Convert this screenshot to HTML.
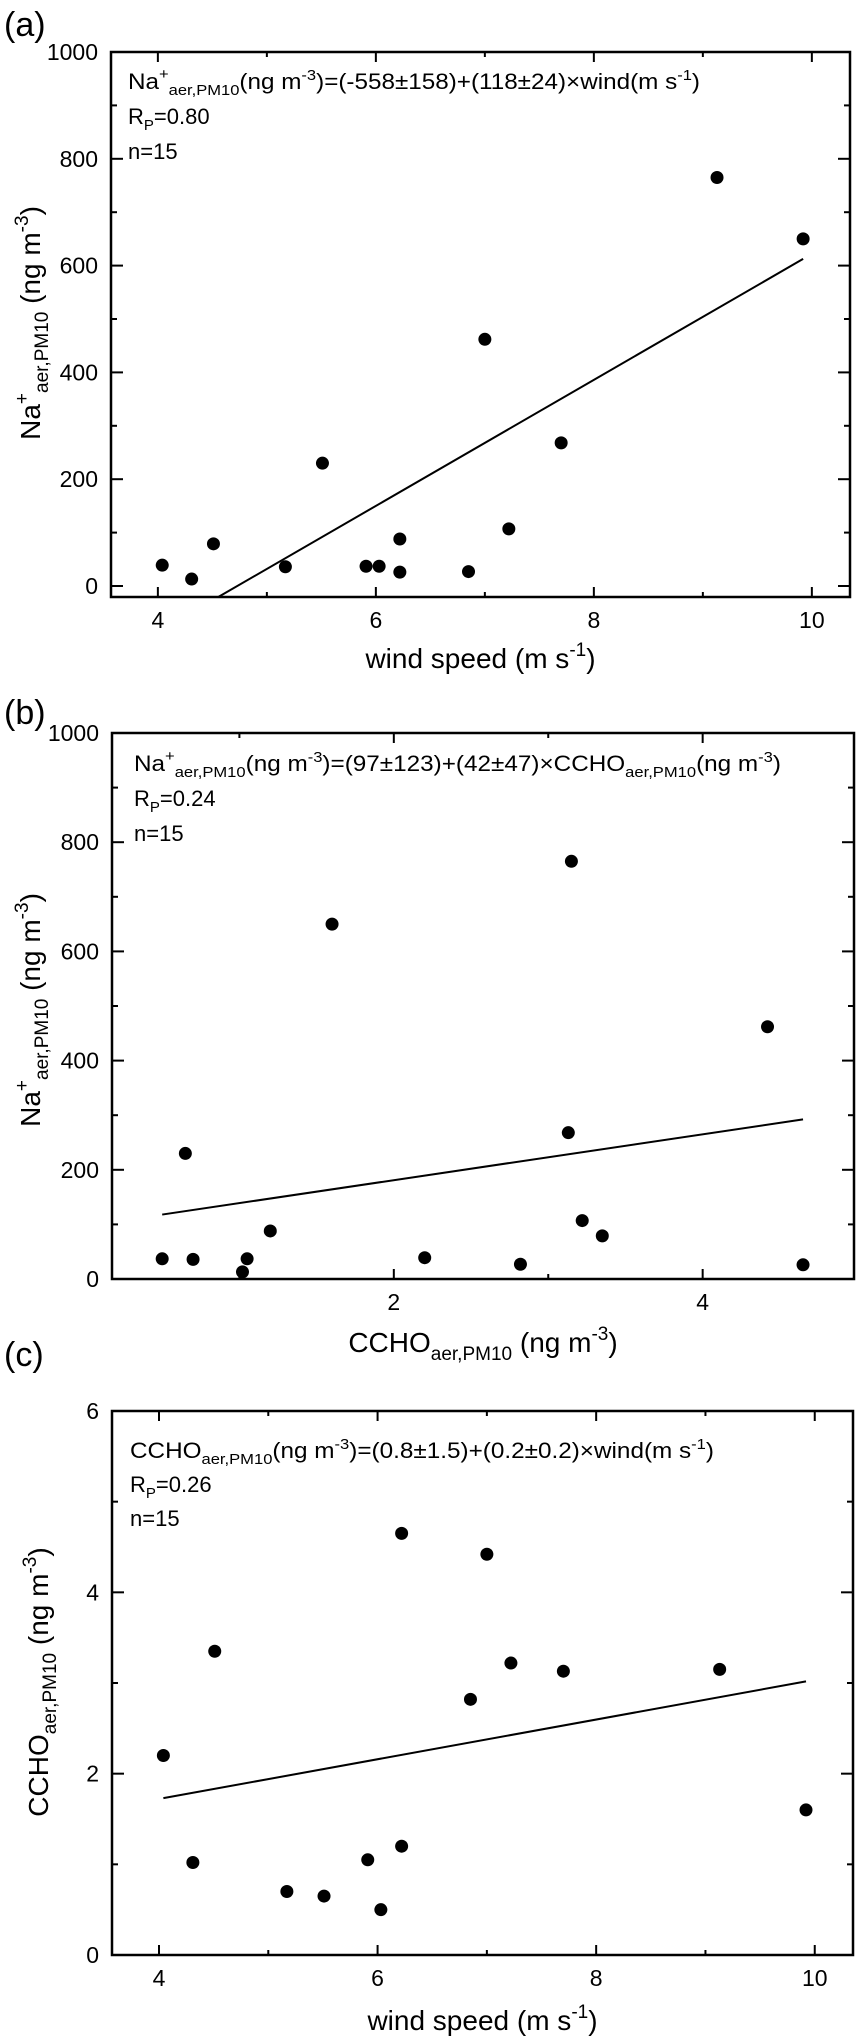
<!DOCTYPE html>
<html><head><meta charset="utf-8"><style>
html,body{margin:0;padding:0;background:#fff}
svg{display:block;font-family:"Liberation Sans",Arial,sans-serif}
</style></head><body>
<svg id="fig" width="856" height="2040" viewBox="0 0 856 2040" xmlns="http://www.w3.org/2000/svg"></svg>
<script>
const windSpeed=[4.04,4.31,4.51,5.17,5.51,5.91,6.03,6.22,6.22,6.85,7.0,7.22,7.7,9.13,9.92];
const naValues=[39,13,79,36,230,37,37,88,26,27,462,107,268,765,650];
const cchoValues=[2.2,1.02,3.35,0.7,0.65,1.05,0.5,1.2,4.65,2.82,4.42,3.22,3.13,3.15,1.6];
const fitA=[-558,118], fitB=[97,42], fitC=[0.845,0.219];
const ticksA_x=[4,6,8,10], ticksA_y=[0,200,400,600,800,1000];
const ticksB_x=[2,4], ticksC_y=[0,2,4,6];
const NS="http://www.w3.org/2000/svg";
const svg=document.getElementById('fig');
function mk(tag,attrs,parent){const e=document.createElementNS(NS,tag);for(const k in attrs)e.setAttribute(k,attrs[k]);(parent||svg).appendChild(e);return e;}

function panel(o){
  const g=mk('g',{});
  
  
  const X=v=>o.L+(v-o.xmin)/(o.xmax-o.xmin)*(o.R-o.L);
  const Y=v=>o.B-(v-o.ymin)/(o.ymax-o.ymin)*(o.B-o.T);
  const fr=mk('rect',{x:o.L,y:o.T,width:o.R-o.L,height:o.B-o.T,fill:'none',stroke:'#000','stroke-width':2.5},g);
  
  
  // x ticks
  for(let v=Math.ceil(o.xmin/o.xminor)*o.xminor;v<=o.xmax+1e-9;v+=o.xminor){
    const major=o.xt.some(t=>Math.abs(t-v)<1e-6); const len=major?10:5; const x=X(v);
    mk('line',{x1:x,y1:o.B,x2:x,y2:o.B-len,stroke:'#000','stroke-width':2},g);
    mk('line',{x1:x,y1:o.T,x2:x,y2:o.T+len,stroke:'#000','stroke-width':2},g);
  }
  o.xt.forEach(v=>{const t=mk('text',{x:X(v),y:o.B+31,'font-size':23,'text-anchor':'middle'},g);t.textContent=v;
    
    });
  for(let v=Math.ceil(o.ymin/o.yminor)*o.yminor;v<=o.ymax+1e-9;v+=o.yminor){
    const major=o.yt.some(t=>Math.abs(t-v)<1e-6); const len=major?12:6; const y=Y(v);
    mk('line',{x1:o.L,y1:y,x2:o.L+len,y2:y,stroke:'#000','stroke-width':2},g);
    mk('line',{x1:o.R,y1:y,x2:o.R-len,y2:y,stroke:'#000','stroke-width':2},g);
  }
  o.yt.forEach(v=>{const t=mk('text',{x:o.L-13,y:Y(v)+8,'font-size':23,'text-anchor':'end'},g);t.textContent=v;
    
    });
  // fit line
  const ln=mk('line',{x1:X(o.fx0),y1:Y(o.fit[0]+o.fit[1]*o.fx0),x2:X(o.fx1),y2:Y(o.fit[0]+o.fit[1]*o.fx1),stroke:'#000','stroke-width':2},g);
  
  
  o.xs.forEach((xv,i)=>{const c=mk('circle',{cx:X(xv),cy:Y(o.ys[i]),r:6.5,fill:'#000'},g);
    
    });
  // text
  const eq=mk('text',{x:o.tx,y:o.ty,'font-size':22,textLength:o.tw,lengthAdjust:'spacingAndGlyphs'},g);
  eq.innerHTML=o.eq;
  
  
  const r=mk('text',{x:o.tx,y:o.ty+o.ls,'font-size':22},g);
  r.innerHTML='R<tspan font-size="15" dy="6">P</tspan><tspan dy="-6">='+o.rp+'</tspan>';
  
  
  const n=mk('text',{x:o.tx,y:o.ty+2*o.ls,'font-size':22},g);n.textContent='n=15';
  
  
  const xt=mk('text',{x:(o.L+o.R)/2,y:o.xty,'font-size':28,'text-anchor':'middle'},g);xt.innerHTML=o.xlab;
  
  
  const yt=mk('text',{x:0,y:0,'font-size':28,'text-anchor':'middle',transform:'translate('+o.ytx+','+o.ytc+') rotate(-90)'},g);yt.innerHTML=o.ylab;
  
  
  const pl=mk('text',{x:4,y:o.ply,'font-size':34},g);pl.textContent=o.pl;
  
  
}
const naLab='Na<tspan font-size="19" dy="-12">+</tspan><tspan font-size="19" dy="20">aer,PM10</tspan><tspan dy="-8"> (ng m</tspan><tspan font-size="19" dy="-12">-3</tspan><tspan dy="12">)</tspan>';
const windLab='wind speed (m s<tspan font-size="19" dy="-12">-1</tspan><tspan dy="12">)</tspan>';
panel({name:'panel-a',pl:'(a)',ply:36,L:111,R:850,T:52,B:597,xmin:3.57,xmax:10.35,ymin:-20.6,ymax:1000,xminor:1,yminor:100,xt:ticksA_x,yt:ticksA_y,
 xs:windSpeed,ys:naValues,fit:fitA,fx0:4.556,fx1:9.92,tx:128,ty:89,tw:572,ls:35,rp:'0.80',
 eq:'Na<tspan font-size="15" dy="-10">+</tspan><tspan font-size="15" dy="16">aer,PM10</tspan><tspan dy="-6">(ng m</tspan><tspan font-size="15" dy="-9">-3</tspan><tspan dy="9">)=(-558±158)+(118±24)×wind(m s</tspan><tspan font-size="15" dy="-9">-1</tspan><tspan dy="9">)</tspan>',
 xlab:windLab,xty:668,ylab:naLab,ytx:40,ytc:323});
panel({name:'panel-b',pl:'(b)',ply:724,L:112,R:854,T:733,B:1279,xmin:0.175,xmax:4.98,ymin:0,ymax:1000,xminor:1,yminor:100,xt:ticksB_x,yt:ticksA_y,
 xs:cchoValues,ys:naValues,fit:fitB,fx0:0.5,fx1:4.65,tx:134,ty:771,tw:647,ls:35,rp:'0.24',
 eq:'Na<tspan font-size="15" dy="-10">+</tspan><tspan font-size="15" dy="16">aer,PM10</tspan><tspan dy="-6">(ng m</tspan><tspan font-size="15" dy="-9">-3</tspan><tspan dy="9">)=(97±123)+(42±47)×CCHO</tspan><tspan font-size="15" dy="6">aer,PM10</tspan><tspan dy="-6">(ng m</tspan><tspan font-size="15" dy="-9">-3</tspan><tspan dy="9">)</tspan>',
 xlab:'CCHO<tspan font-size="19" dy="8">aer,PM10</tspan><tspan dy="-8"> (ng m</tspan><tspan font-size="19" dy="-12">-3</tspan><tspan dy="12">)</tspan>',xty:1352,ylab:naLab,ytx:40,ytc:1010});
panel({name:'panel-c',pl:'(c)',ply:1366,L:112,R:853,T:1411,B:1955,xmin:3.57,xmax:10.35,ymin:0,ymax:6,xminor:1,yminor:1,xt:ticksA_x,yt:ticksC_y,
 xs:windSpeed,ys:cchoValues,fit:fitC,fx0:4.04,fx1:9.92,tx:130,ty:1458,tw:584,ls:34,rp:'0.26',
 eq:'CCHO<tspan font-size="15" dy="6">aer,PM10</tspan><tspan dy="-6">(ng m</tspan><tspan font-size="15" dy="-9">-3</tspan><tspan dy="9">)=(0.8±1.5)+(0.2±0.2)×wind(m s</tspan><tspan font-size="15" dy="-9">-1</tspan><tspan dy="9">)</tspan>',
 xlab:windLab,xty:2030,ylab:'CCHO<tspan font-size="19" dy="8">aer,PM10</tspan><tspan dy="-8"> (ng m</tspan><tspan font-size="19" dy="-12">-3</tspan><tspan dy="12">)</tspan>',ytx:48,ytc:1682});
</script>
</body></html>
